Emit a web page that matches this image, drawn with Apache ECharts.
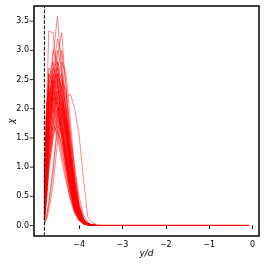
<!DOCTYPE html>
<html><head><meta charset="utf-8">
<script src="https://cdn.jsdelivr.net/npm/echarts@6/dist/echarts.min.js"></script>
<style>html,body{margin:0;padding:0;background:#fff}#c{width:266px;height:266px}</style>
</head><body><div id="c"></div>
<script>
// positions along y/d where chi was sampled
const xGrid = [-4.80,-4.75,-4.70,-4.60,-4.50,-4.40,-4.30,-4.20,-4.10,-4.00,-3.90,-3.80,-3.70,-3.60,-3.50,-0.08];
// chi profiles (one per run)
const chiRuns = [
[0.20,1.20,2.00,2.90,3.58,2.60,1.60,0.90,0.40,0.15,0.05,0.02,0.01,0,0,0],
[0.40,2.00,3.33,3.30,2.50,1.80,1.10,0.60,0.25,0.10,0.04,0.01,0,0,0,0],
[0.10,0.80,1.50,2.40,2.90,3.30,2.30,1.30,0.60,0.25,0.08,0.03,0.01,0,0,0],
[0.10,0.60,1.10,1.60,1.90,2.10,2.20,2.25,2.00,1.55,0.80,0.15,0.05,0.02,0,0],
[0.30,1.50,2.70,2.60,2.20,1.70,1.10,0.60,0.30,0.12,0.04,0.01,0,0,0,0],
[0.05,0.15,0.35,0.90,1.80,2.40,2.00,1.20,0.60,0.20,0.06,0.02,0,0,0,0],
[0.50,1.60,2.20,2.50,2.30,1.80,1.20,0.70,0.30,0.12,0.04,0.01,0,0,0,0],
[0.20,1.00,1.70,2.30,2.60,2.40,1.70,1.00,0.50,0.20,0.07,0.02,0,0,0,0],
[0.80,1.90,2.40,2.10,1.70,1.30,0.90,0.50,0.25,0.10,0.03,0.01,0,0,0,0],
[0.10,0.70,1.30,2.00,2.50,2.80,2.60,1.80,0.90,0.35,0.10,0.03,0.01,0,0,0],
[0.30,1.20,1.90,2.20,2.00,1.60,1.10,0.65,0.30,0.12,0.04,0.01,0,0,0,0],
[0.15,0.90,1.60,2.50,3.00,2.70,1.90,1.10,0.50,0.18,0.05,0.02,0,0,0,0],
[0.60,1.80,2.60,2.40,2.00,1.50,1.00,0.60,0.30,0.12,0.04,0.01,0,0,0,0],
[0.20,0.90,1.40,1.80,2.00,1.90,1.60,1.10,0.60,0.25,0.08,0.02,0,0,0,0],
[0.10,0.50,1.00,1.70,2.20,2.50,2.30,1.60,0.90,0.40,0.13,0.04,0.01,0,0,0],
[0.90,2.10,2.30,2.00,1.60,1.20,0.80,0.45,0.20,0.08,0.03,0.01,0,0,0,0],
[0.30,1.30,2.10,2.70,2.80,2.30,1.60,0.90,0.40,0.15,0.05,0.02,0,0,0,0],
[0.05,0.40,0.90,1.50,1.90,2.10,1.90,1.40,0.80,0.35,0.12,0.04,0.01,0,0,0],
[0.40,1.40,2.00,2.30,2.10,1.70,1.20,0.70,0.35,0.14,0.05,0.02,0,0,0,0],
[0.20,1.10,1.80,2.60,3.20,2.90,2.00,1.10,0.50,0.20,0.06,0.02,0,0,0,0],
[0.70,1.50,1.90,1.80,1.50,1.10,0.75,0.45,0.22,0.09,0.03,0.01,0,0,0,0],
[0.15,0.80,1.40,2.10,2.60,2.30,1.80,1.20,0.70,0.30,0.10,0.03,0.01,0,0,0],
[0.25,1.20,2.00,2.40,2.50,2.10,1.50,0.90,0.45,0.18,0.06,0.02,0,0,0,0],
[0.10,0.60,1.20,1.90,2.30,2.20,1.90,1.50,1.00,0.50,0.18,0.05,0.01,0,0,0],
[0.50,1.70,2.50,2.80,2.40,1.80,1.20,0.70,0.35,0.14,0.05,0.02,0,0,0,0],
[0.30,1.00,1.50,1.70,1.60,1.40,1.10,0.75,0.40,0.16,0.05,0.02,0,0,0,0],
[0.10,0.70,1.40,2.20,2.70,3.00,2.40,1.50,0.70,0.25,0.08,0.02,0,0,0,0],
[0.40,1.50,2.20,2.60,2.70,2.30,1.60,0.95,0.45,0.17,0.05,0.02,0,0,0,0],
[0.03,0.15,0.40,1.00,1.60,2.00,1.80,1.30,0.70,0.30,0.10,0.03,0.01,0,0,0],
[0.60,1.60,2.10,2.20,1.90,1.50,1.00,0.60,0.28,0.11,0.04,0.01,0,0,0,0],
[0.20,1.00,1.70,2.20,2.40,2.20,1.80,1.20,0.65,0.28,0.09,0.03,0.01,0,0,0],
[0.30,1.30,2.30,3.00,2.80,2.10,1.40,0.80,0.38,0.15,0.05,0.02,0,0,0,0],
[0.10,0.50,1.00,1.50,1.80,1.75,1.50,1.10,0.65,0.30,0.10,0.03,0.01,0,0,0],
[0.50,1.40,2.00,2.40,2.20,1.70,1.15,0.65,0.30,0.12,0.04,0.01,0,0,0,0],
[0.20,0.90,1.60,2.40,2.70,2.50,2.00,1.30,0.70,0.28,0.09,0.03,0.01,0,0,0],
[0.40,1.20,1.80,2.00,1.90,1.60,1.20,0.80,0.42,0.17,0.06,0.02,0,0,0,0],
[0.15,0.80,1.50,2.30,2.80,2.60,1.90,1.10,0.50,0.19,0.06,0.02,0,0,0,0],
[0.30,1.10,1.70,2.10,2.30,2.10,1.70,1.20,0.70,0.30,0.10,0.03,0.01,0,0,0],
[0.02,0.10,0.25,0.70,1.40,1.90,1.70,1.10,0.55,0.22,0.07,0.02,0,0,0,0],
[0.70,1.90,2.50,2.40,2.00,1.50,1.00,0.55,0.25,0.10,0.03,0.01,0,0,0,0],
[0.25,1.00,1.60,2.00,2.20,2.00,1.50,1.00,0.55,0.22,0.07,0.02,0,0,0,0],
[0.10,0.60,1.10,1.80,2.40,2.60,2.20,1.40,0.75,0.30,0.09,0.03,0.01,0,0,0],
[0.35,1.30,2.10,2.50,2.60,2.20,1.50,0.85,0.40,0.15,0.05,0.02,0,0,0,0],
[0.20,0.80,1.30,1.60,1.70,1.60,1.30,0.90,0.50,0.20,0.06,0.02,0,0,0,0],
[0.50,1.50,2.10,2.30,2.10,1.60,1.10,0.60,0.28,0.11,0.04,0.01,0,0,0,0],
[0.20,1.10,1.90,2.50,2.40,2.00,1.40,0.85,0.42,0.16,0.05,0.02,0,0,0,0],
[0.35,1.40,2.20,2.60,2.50,1.90,1.30,0.75,0.35,0.14,0.05,0.02,0,0,0,0],
[0.10,0.70,1.30,1.90,2.20,2.10,1.70,1.10,0.60,0.24,0.08,0.02,0,0,0,0],
[0.60,1.70,2.30,2.20,1.80,1.35,0.90,0.52,0.24,0.10,0.03,0.01,0,0,0,0],
[0.25,1.00,1.80,2.40,2.60,2.20,1.60,1.00,0.50,0.20,0.06,0.02,0,0,0,0],
[0.45,1.60,2.40,2.70,2.50,1.90,1.30,0.75,0.34,0.13,0.04,0.01,0,0,0,0],
[0.15,0.60,1.10,1.70,2.00,2.00,1.70,1.20,0.70,0.30,0.10,0.03,0.01,0,0,0],
[0.30,1.20,1.90,2.20,2.10,1.75,1.25,0.78,0.38,0.15,0.05,0.02,0,0,0,0],
[0.80,2.00,2.60,2.50,2.10,1.60,1.05,0.60,0.28,0.11,0.04,0.01,0,0,0,0]
];
const wallX = -4.8;
const xTicks = [-4,-3,-2,-1,0];
const yTicks = [0,0.5,1,1.5,2,2.5,3,3.5];
const xRange = [-5.04, 0.15];
const yRange = [-0.18, 3.76];

const chart = echarts.init(document.getElementById('c'), null, {renderer:'canvas'});
const series = chiRuns.map(run => ({
  type:'line', data: xGrid.map((x,i)=>[x, run[i]]), showSymbol:false, silent:true,
  lineStyle:{color:'rgba(255,0,0,0.55)', width:0.85}, z:2
}));
series.push({
  type:'line', data:[[wallX, yRange[0]],[wallX, yRange[1]]], showSymbol:false, silent:true,
  lineStyle:{color:'#000', width:1, type:[3.7,1.6]}, z:3
});
// y tick marks drawn as small rects at the left edge of the axis
series.push({
  type:'scatter', data: yTicks.map(v=>[xRange[0], v]), clip:false, silent:true,
  symbol:'rect', symbolSize:[3.5,1], symbolOffset:[-2.5,0],
  itemStyle:{color:'#000'}, z:5
});
const font = 'DejaVu Sans';
chart.setOption({
  animation:false,
  grid:{left:34, top:6, right:7, bottom:30, containLabel:false, outerBoundsMode:'none',
    show:true, borderColor:'#000', borderWidth:1.5, backgroundColor:'#fff'},
  xAxis:{type:'value', min:xRange[0], max:xRange[1],
    name:'y/d', nameLocation:'middle', nameGap:13.5, nameMoveOverlap:false,
    nameTextStyle:{fontFamily:font, fontSize:9, fontStyle:'italic', color:'#000'},
    axisLine:{show:false}, splitLine:{show:false},
    axisTick:{show:true, length:3.5, customValues:xTicks, lineStyle:{color:'#000', width:1}},
    axisLabel:{customValues:xTicks, margin:5, fontFamily:font, fontSize:8, color:'#000',
      formatter:v=>String(v).replace('-','\u2212')}
  },
  yAxis:{type:'value', min:yRange[0], max:yRange[1],
    name:'χ', nameLocation:'middle', nameGap:18, nameMoveOverlap:false,
    nameTextStyle:{fontFamily:font, fontSize:9, fontStyle:'italic', color:'#000'},
    axisLine:{show:false}, splitLine:{show:false},
    axisTick:{show:false},
    axisLabel:{customValues:yTicks, margin:5, fontFamily:font, fontSize:8, color:'#000',
      formatter:v=>v.toFixed(1)}
  },
  series: series
});
</script></body></html>
